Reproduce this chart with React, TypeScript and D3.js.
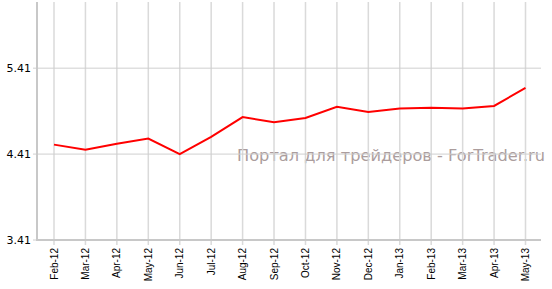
import React from "react";
import * as d3 from "d3";

const categories = ["Feb-12","Mar-12","Apr-12","May-12","Jun-12","Jul-12","Aug-12","Sep-12","Oct-12","Nov-12","Dec-12","Jan-13","Feb-13","Mar-13","Apr-13","May-13"];
const values = [4.52,4.46,4.53,4.59,4.41,4.61,4.84,4.78,4.83,4.96,4.90,4.94,4.95,4.94,4.97,5.18];
const yTicks = [3.41,4.41,5.41];
const watermark = "Портал для трейдеров - ForTrader.ru";

export default function App() {
  const W = 552, H = 289;
  const left = 37, right = 541, top = 2, bottom = 240;
  const x = d3.scalePoint<string>().domain(categories).range([54, 525.5]);
  const y = d3.scaleLinear().domain([3.41, 6.18]).range([bottom, top]);
  const line = d3.line<number>().x((_, i) => x(categories[i])!).y(d => y(d));
  return (
    <svg width={W} height={H} style={{position:"absolute",left:0,top:0,background:"#fff"}} fontFamily="Liberation Sans, Arial, sans-serif">
      <text x={237} y={160.5} fontSize={15} fill="#ab9d9d" fontFamily="DejaVu Sans, Verdana, sans-serif" textLength={308} lengthAdjust="spacingAndGlyphs">{watermark}</text>
      {categories.map(c => (
        <line key={c} x1={x(c)} x2={x(c)} y1={top} y2={bottom + 5} stroke="#d6d6d6" strokeWidth={1.5} opacity={0.9} />
      ))}
      {yTicks.map(t => (
        <g key={t}>
          <line x1={left - 4} x2={right} y1={y(t)} y2={y(t)} stroke="#cfcfcf" strokeWidth={1} />
          <text x={31} y={y(t) + 4} textAnchor="end" fontSize={11} fill="#000" fontFamily="DejaVu Sans, Verdana, sans-serif">{t.toFixed(2)}</text>
        </g>
      ))}
      <line x1={left} x2={left} y1={top} y2={bottom + 1} stroke="#c8c8c8" strokeWidth={2} />
      <line x1={left} x2={right} y1={bottom} y2={bottom} stroke="#c8c8c8" strokeWidth={2} />
      <path d={line(values)!} fill="none" stroke="#ff0000" strokeWidth={2} strokeLinejoin="miter" />
      {categories.map(c => (
        <text key={c} transform={`translate(${x(c)! + 3.5},248) rotate(-90)`} textAnchor="end" fontSize={10} fill="#000">{c}</text>
      ))}
    </svg>
  );
}
